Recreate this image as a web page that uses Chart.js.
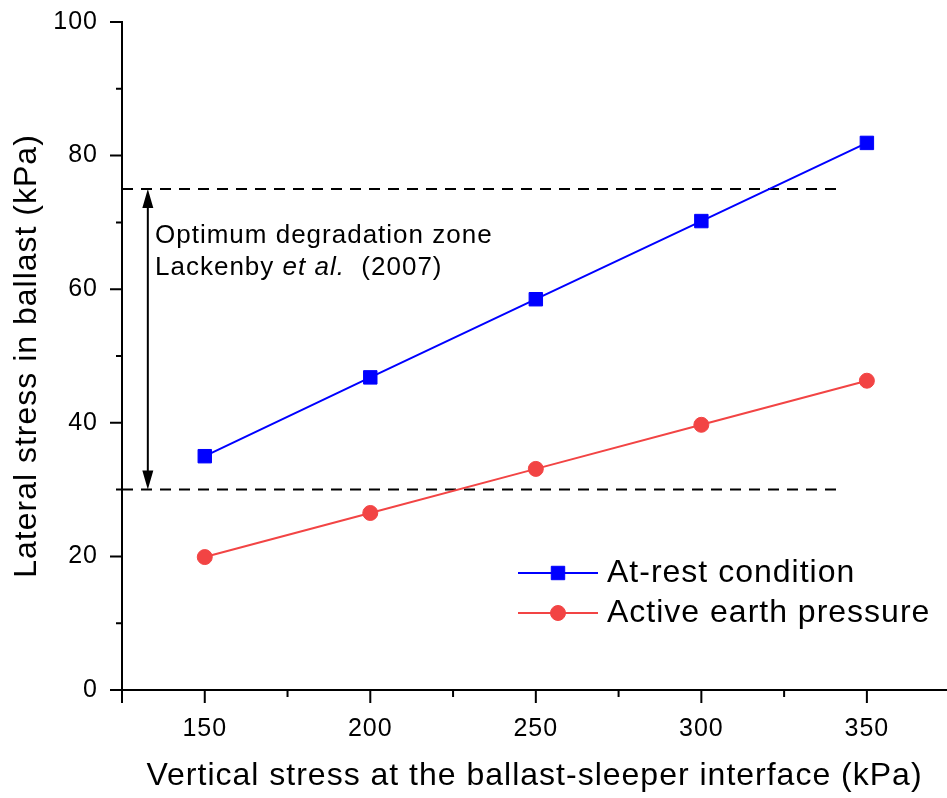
<!DOCTYPE html>
<html>
<head>
<meta charset="utf-8">
<script src="https://cdn.jsdelivr.net/npm/chart.js@4.4.0/dist/chart.umd.min.js"></script>
<style>
  body { margin: 0; background: #fff; }
  #wrap { width: 947px; height: 798px; }
</style>
</head>
<body>
<div id="wrap"><canvas id="stressChart" width="947" height="798"></canvas></div>
<script>
let verticalStress = [150, 200, 250, 300, 350]
let atRest = [35.0, 46.8, 58.5, 70.2, 81.9]
let activePressure = [19.9, 26.5, 33.1, 39.7, 46.3]
let zoneLimits = [30, 75] // optimum degradation zone, Lackenby et al. (2007)
let zoneX = [125, 343]    // how far the dashed limits run
let arrowX = 132.8
let xMajor = [125, 150, 200, 250, 300, 350]
let xLabels = [150, 200, 250, 300, 350]
let xMinor = [175, 225, 275, 325]
let yMajor = [0, 20, 40, 60, 80, 100]
let yMinor = [10, 30, 50, 70, 90]

const FONT = '"Liberation Sans", Arial, sans-serif'
const BLUE = '#0000FF'
const RED = '#F24444'

let toXY = (xs, ys) => xs.map((v, i) => ({ x: v, y: ys[i] }))

// keep the plot box where the layout padding puts it
let noOverflow = s => { s.paddingTop = 0; s.paddingBottom = 0; s.paddingLeft = 0; s.paddingRight = 0 }

// axis ticks, range arrow, note and legend
const extras = {
  id: 'extras',
  beforeDraw(chart) {
    chart.ctx.letterSpacing = '1px'
  },
  afterDraw(chart) {
    const { ctx, scales: { x, y } } = chart
    ctx.save()
    ctx.strokeStyle = '#000'
    ctx.fillStyle = '#000'
    ctx.lineWidth = 2
    let yAxis = y.getPixelForValue(0)
    let xAxis = x.getPixelForValue(x.min)

    ctx.beginPath()
    xMajor.forEach(v => { let p = x.getPixelForValue(v); ctx.moveTo(p, yAxis); ctx.lineTo(p, yAxis + 13) })
    xMinor.forEach(v => { let p = x.getPixelForValue(v); ctx.moveTo(p, yAxis); ctx.lineTo(p, yAxis + 7) })
    yMajor.forEach(v => { let p = y.getPixelForValue(v); ctx.moveTo(xAxis, p); ctx.lineTo(xAxis - 12, p) })
    yMinor.forEach(v => { let p = y.getPixelForValue(v); ctx.moveTo(xAxis, p); ctx.lineTo(xAxis - 6, p) })
    ctx.stroke()

    // double headed arrow between the two limits
    let ax = x.getPixelForValue(arrowX)
    let top = y.getPixelForValue(zoneLimits[1])
    let bot = y.getPixelForValue(zoneLimits[0])
    let head = 19, half = 5.5
    ctx.beginPath()
    ctx.moveTo(ax, top + head - 2)
    ctx.lineTo(ax, bot - head + 2)
    ctx.stroke()
    ctx.beginPath()
    ctx.moveTo(ax, top); ctx.lineTo(ax - half, top + head); ctx.lineTo(ax + half, top + head); ctx.closePath()
    ctx.moveTo(ax, bot); ctx.lineTo(ax - half, bot - head); ctx.lineTo(ax + half, bot - head); ctx.closePath()
    ctx.fill()

    ctx.letterSpacing = '1px'
    ctx.textBaseline = 'alphabetic'
    ctx.textAlign = 'left'
    ctx.font = '26px ' + FONT
    ctx.fillText('Optimum degradation zone', 155, 243)
    let tx = 155
    ctx.fillText('Lackenby ', tx, 275)
    tx += ctx.measureText('Lackenby ').width
    ctx.font = 'italic 26px ' + FONT
    ctx.fillText('et al.', tx, 275)
    tx += ctx.measureText('et al.').width
    ctx.font = '26px ' + FONT
    ctx.fillText('  (2007)', tx, 275)

    // legend, drawn from the dataset styles
    const items = [
      { ds: chart.data.datasets[0], y: 573 },
      { ds: chart.data.datasets[1], y: 613 }
    ]
    ctx.font = '32px ' + FONT
    ctx.textBaseline = 'middle'
    items.forEach(it => {
      ctx.strokeStyle = it.ds.borderColor
      ctx.lineWidth = 2
      ctx.beginPath()
      ctx.moveTo(518, it.y); ctx.lineTo(598, it.y)
      ctx.stroke()
      ctx.fillStyle = it.ds.pointBackgroundColor
      ctx.strokeStyle = it.ds.pointBorderColor
      ctx.lineWidth = 1
      Chart.helpers.drawPoint(ctx, {
        pointStyle: it.ds.pointStyle, radius: it.ds.pointRadius, borderWidth: 1, rotation: 0
      }, 558, it.y)
      ctx.fillStyle = '#000'
      ctx.fillText(it.ds.label, 607, it.y)
    })
    ctx.restore()
  }
}

new Chart(document.getElementById('stressChart'), {
  type: 'line',
  data: {
    datasets: [
      {
        label: 'At-rest condition',
        data: toXY(verticalStress, atRest),
        borderColor: BLUE,
        backgroundColor: BLUE,
        pointBackgroundColor: BLUE,
        pointBorderColor: BLUE,
        pointStyle: 'rect',
        pointRadius: 9.5,
        pointBorderWidth: 1,
        borderWidth: 2,
        fill: false
      },
      {
        label: 'Active earth pressure',
        data: toXY(verticalStress, activePressure),
        borderColor: RED,
        backgroundColor: RED,
        pointBackgroundColor: RED,
        pointBorderColor: RED,
        pointStyle: 'circle',
        pointRadius: 7.5,
        pointBorderWidth: 1,
        borderWidth: 2,
        fill: false
      },
      {
        label: 'upper limit',
        data: toXY(zoneX, [zoneLimits[1], zoneLimits[1]]),
        borderColor: '#000',
        borderWidth: 2,
        borderDash: [11, 8],
        pointRadius: 0
      },
      {
        label: 'lower limit',
        data: toXY(zoneX, [zoneLimits[0], zoneLimits[0]]),
        borderColor: '#000',
        borderWidth: 2,
        borderDash: [11, 8],
        pointRadius: 0
      }
    ]
  },
  options: {
    responsive: false,
    animation: false,
    layout: { autoPadding: false, padding: { top: 22, right: 0, bottom: 0, left: 0 } },
    plugins: {
      legend: { display: false },
      tooltip: { enabled: false }
    },
    scales: {
      x: {
        type: 'linear',
        min: 125,
        max: 374.2,
        afterBuildTicks: s => { s.ticks = xLabels.map(v => ({ value: v })) },
        afterFit: s => { s.height = 108; noOverflow(s) },
        grid: { display: false, drawTicks: false },
        border: { display: true, color: '#000', width: 2 },
        ticks: { color: '#000', padding: 24, font: { family: FONT, size: 25 } },
        title: {
          display: true,
          text: 'Vertical stress at the ballast-sleeper interface (kPa)',
          color: '#000',
          font: { family: FONT, size: 32 },
          padding: { top: 0, bottom: 3 }
        }
      },
      y: {
        min: 0,
        max: 100,
        afterBuildTicks: s => { s.ticks = yMajor.map(v => ({ value: v })) },
        afterFit: s => { s.width = 122; noOverflow(s) },
        grid: { display: false, drawTicks: false },
        border: { display: true, color: '#000', width: 2 },
        ticks: { color: '#000', padding: 24, font: { family: FONT, size: 25 } },
        title: {
          display: true,
          text: 'Lateral stress in ballast (kPa)',
          color: '#000',
          font: { family: FONT, size: 32 },
          padding: { top: 8, bottom: 0 }
        }
      }
    }
  },
  plugins: [extras]
})
</script>
</body>
</html>
